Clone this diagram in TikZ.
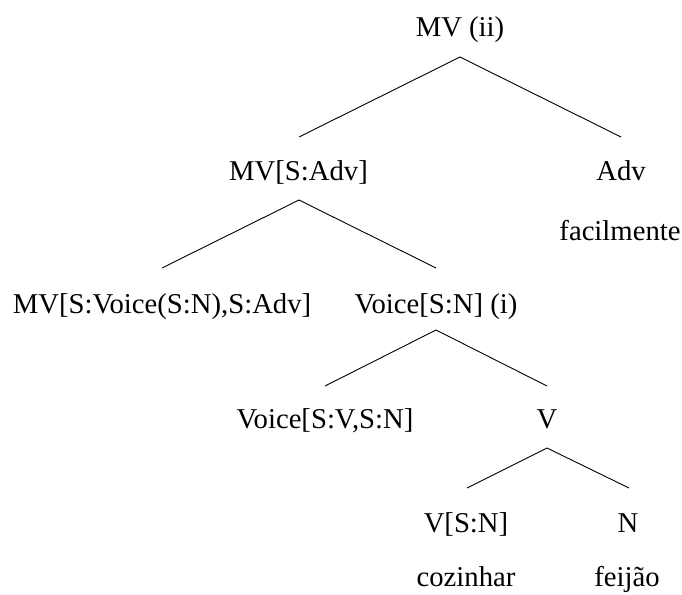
\documentclass[tikz,border=0pt]{standalone}
\usepackage{fontspec}
\setmainfont{Liberation Serif}
\begin{document}
\begin{tikzpicture}[x=1pt,y=-1pt,
  lbl/.style={anchor=base, inner sep=0pt, font=\fontsize{28.7}{34}\selectfont},
  branch/.style={draw=black, line width=0.9pt}]
\useasboundingbox (0,0) rectangle (682,594);

% labels of the tree
\node[lbl] (root)  at (460,37)  {MV (ii)};
\node[lbl] (mvadv) at (298.5,180) {MV[S:Adv]};
\node[lbl] (adv)   at (621,180) {Adv};
\node[lbl] (facil) at (620,240) {facilmente};
\node[lbl] (mvvoi) at (162,313) {MV[S:Voice(S:N),S:Adv]};
\node[lbl] (voisn) at (436,313) {Voice[S:N] (i)};
\node[lbl] (voivn) at (325,428) {Voice[S:V,S:N]};
\node[lbl] (v)     at (547,428) {V};
\node[lbl] (vsn)   at (466,532) {V[S:N]};
\node[lbl] (n)     at (628,532) {N};
\node[lbl] (coz)   at (466,586) {cozinhar};
\node[lbl] (feij)  at (627,586) {feijão};

% branch points below each mother and above each daughter
\coordinate (root-b)  at (460,57);
\coordinate (mvadv-t) at (299,137);
\coordinate (adv-t)   at (621,137);
\coordinate (mvadv-b) at (299,200);
\coordinate (mvvoi-t) at (162,268);
\coordinate (voisn-t) at (436,268);
\coordinate (voisn-b) at (436,330);
\coordinate (voivn-t) at (325,386);
\coordinate (v-t)     at (547,386);
\coordinate (v-b)     at (547,448);
\coordinate (vsn-t)   at (467,488);
\coordinate (n-t)     at (629,488);

\draw[branch] (mvadv-t) -- (root-b) -- (adv-t);
\draw[branch] (mvvoi-t) -- (mvadv-b) -- (voisn-t);
\draw[branch] (voivn-t) -- (voisn-b) -- (v-t);
\draw[branch] (vsn-t) -- (v-b) -- (n-t);
\end{tikzpicture}
\end{document}
